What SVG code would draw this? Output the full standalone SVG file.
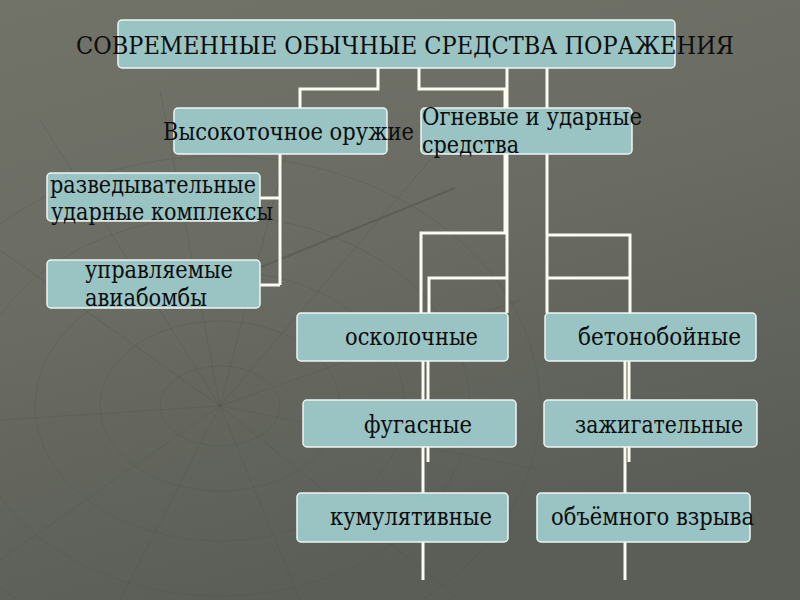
<svg xmlns="http://www.w3.org/2000/svg" width="800" height="600" viewBox="0 0 800 600">
<defs>
<linearGradient id="bg" x1="0" y1="0" x2="0.35" y2="1">
<stop offset="0" stop-color="#717268"/>
<stop offset="0.5" stop-color="#6a6b62"/>
<stop offset="1" stop-color="#5a5e57"/>
</linearGradient>
<style>
.box{fill:#99c4c3;stroke:#eef5f3;stroke-width:1.5}
.t{font-family:"DejaVu Serif","Liberation Serif",serif;font-size:25px;fill:#0d0d0d}
.c{fill:none;stroke:#fbfbf2;stroke-width:3}
.g{fill:none;stroke:#4c4e47;stroke-width:1;opacity:0.25}
</style>
</defs>
<rect width="800" height="600" fill="url(#bg)"/>
<g id="background">
<ellipse class="g" cx="220" cy="406" rx="60" ry="40"/>
<ellipse class="g" cx="220" cy="406" rx="120" ry="85"/>
<ellipse class="g" cx="220" cy="406" rx="185" ry="135"/>
<ellipse class="g" cx="220" cy="406" rx="250" ry="190"/>
<ellipse class="g" cx="220" cy="406" rx="320" ry="250"/>
<path class="g" d="M220,406 L0,250 M220,406 L40,120 M220,406 L160,90 M220,406 L300,100 M220,406 L430,160 M220,406 L520,300 M220,406 L540,470 M220,406 L460,600 M220,406 L300,600 M220,406 L120,600 M220,406 L0,560 M220,406 L0,420"/>
<path d="M180,300 L455,188" fill="none" stroke="#4a4c45" stroke-width="2" opacity="0.4"/>
</g>
<g id="connectors">
<path class="c" d="M378,68 V89 H300 V108"/>
<path class="c" d="M419,68 V89 H505 V233 H421 V313"/>
<path class="c" d="M507,68 V313"/>
<path class="c" d="M507,278 H429 V313"/>
<path class="c" d="M547,68 V313"/>
<path class="c" d="M547,235 H630 V313"/>
<path class="c" d="M547,278 H630"/>
<path class="c" d="M280,154 V285"/>
<path class="c" d="M260,198 H280"/>
<path class="c" d="M260,285 H280"/>
<path class="c" d="M423,361 V400 M428,361 V400 M423,447 V493 M428,447 V462 M423,542 V580"/>
<path class="c" d="M625,361 V400 M629,361 V400 M625,447 V493 M629,447 V462 M625,542 V580"/>
</g>
<g id="title">
<rect class="box" x="118" y="20" width="557" height="48" rx="4"/>
<text class="t" x="76" y="54" font-size="26" textLength="658" lengthAdjust="spacingAndGlyphs">СОВРЕМЕННЫЕ ОБЫЧНЫЕ СРЕДСТВА ПОРАЖЕНИЯ</text>
</g>
<g id="vysokotochnoe">
<rect class="box" x="174" y="108" width="213" height="46" rx="4"/>
<text class="t" x="163" y="140" textLength="251" lengthAdjust="spacingAndGlyphs">Высокоточное оружие</text>
</g>
<g id="ognevye">
<rect class="box" x="421" y="108" width="211" height="46" rx="4"/>
<text class="t" x="422" y="125" textLength="220" lengthAdjust="spacingAndGlyphs">Огневые и ударные</text>
<text class="t" x="422" y="153" textLength="97" lengthAdjust="spacingAndGlyphs">средства</text>
</g>
<g id="razvedyvatelnye">
<rect class="box" x="47" y="173" width="213" height="48" rx="4"/>
<text class="t" x="50" y="193" textLength="206" lengthAdjust="spacingAndGlyphs">разведывательные</text>
<text class="t" x="51" y="220" textLength="222" lengthAdjust="spacingAndGlyphs">ударные комплексы</text>
</g>
<g id="upravlyaemye">
<rect class="box" x="47" y="260" width="213" height="48" rx="4"/>
<text class="t" x="85" y="278" textLength="148" lengthAdjust="spacingAndGlyphs">управляемые</text>
<text class="t" x="85" y="306" textLength="122" lengthAdjust="spacingAndGlyphs">авиабомбы</text>
</g>
<g id="oskolochnye">
<rect class="box" x="297" y="313" width="211" height="48" rx="4"/>
<text class="t" x="345" y="345" textLength="133" lengthAdjust="spacingAndGlyphs">осколочные</text>
</g>
<g id="betonoboynye">
<rect class="box" x="545" y="313" width="211" height="48" rx="4"/>
<text class="t" x="578" y="345" textLength="163" lengthAdjust="spacingAndGlyphs">бетонобойные</text>
</g>
<g id="fugasnye">
<rect class="box" x="303" y="400" width="213" height="47" rx="4"/>
<text class="t" x="364" y="433" textLength="108" lengthAdjust="spacingAndGlyphs">фугасные</text>
</g>
<g id="zazhigatelnye">
<rect class="box" x="544" y="400" width="213" height="47" rx="4"/>
<text class="t" x="575" y="433" textLength="168" lengthAdjust="spacingAndGlyphs">зажигательные</text>
</g>
<g id="kumulyativnye">
<rect class="box" x="297" y="493" width="211" height="49" rx="4"/>
<text class="t" x="330" y="525" textLength="162" lengthAdjust="spacingAndGlyphs">кумулятивные</text>
</g>
<g id="obyomnogo">
<rect class="box" x="537" y="493" width="213" height="49" rx="4"/>
<text class="t" x="551" y="525" textLength="203" lengthAdjust="spacingAndGlyphs">объёмного взрыва</text>
</g>
</svg>
